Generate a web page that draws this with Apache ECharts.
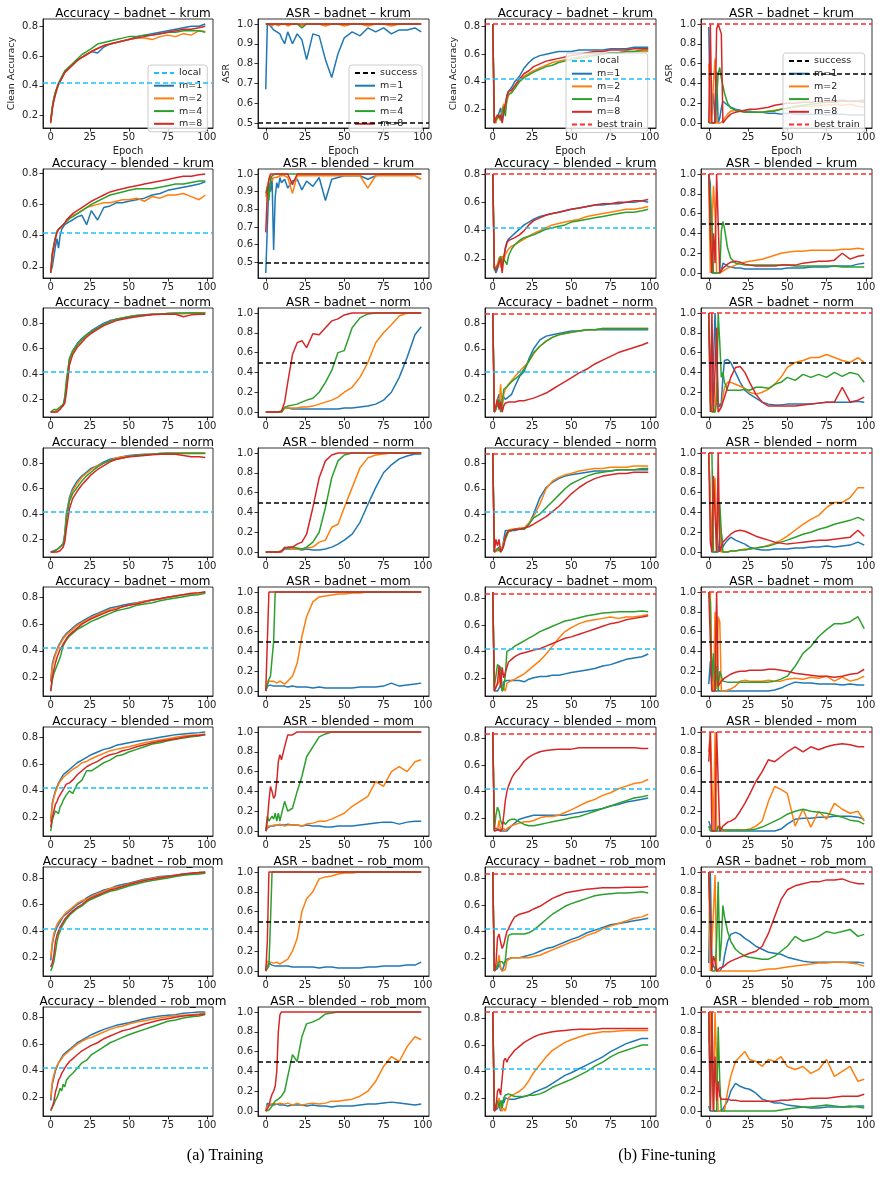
<!DOCTYPE html>
<html>
<head>
<meta charset="utf-8">
<script src="https://cdn.jsdelivr.net/npm/echarts@6/dist/echarts.min.js"></script>
<style>
html, body { margin: 0; padding: 0; background: #fff; }
#main { width: 881px; height: 1188px; }
</style>
</head>
<body>
<div id="main"></div>
<script>
var EPOCHS = [0,1,2,3,4,5,6,7,8,9,10, 12,14,17,20,23,26,30,34,38,42,46, 50,55,60,65,70,75,80,85,90,95,99];
var MODELS = ['m=1', 'm=2', 'm=4', 'm=8'];
var ROW_NAMES = ['badnet – krum', 'blended – krum', 'badnet – norm', 'blended – norm',
                 'badnet – mom', 'blended – mom', 'badnet – rob_mom', 'blended – rob_mom'];
var LOCAL_ACC = 0.425;
var SUCCESS_ASR = 0.5;
var BEST_TRAIN_ACC = [0.82, 0.80, 0.883, 0.883, 0.845, 0.845, 0.845, 0.847];
var BEST_TRAIN_ASR = 1.0;

// values in percent; rows are m=1, m=2, m=4, m=8
var trainAcc_badnet_krum = [
  [16,25,31,35,38,41,43,45,47,49,50, 52,54,57,59,61,63,62,66,68,69,70, 71,73,74,75,76,77,78,79,80,80,81.5],
  [16,25,31,35,38,41,43,45,47,49,50, 52,54,57,59,61,63,65,67,68,69,70, 71,72,72,71,73,74,73,75,74,77,76.5],
  [17,26,32,36,39,42,44,46,48,50,51, 53,55,58,61,63,65,68,69,70,71,72, 73,73,74,74,75,76,76,77,77,77,76],
  [15,24,30,34,38,41,43,45,47,49,50, 52,54,57,59,61,63,65,67,68,69,70, 71,72,73,74,75,76,77,78,78,79,80]
];
var trainAsr_badnet_krum = [
  [67,100,100,99,98,97,98,96,97,95,93, 90,96,90,95,92,82,95,94,82,73,85, 93,96,94,98,96,98,95,97,97,98,96],
  [100,100,100,100,99,100,100,100,99,100,100, 100,99,100,100,99,100,100,100,99,100,100, 99,100,100,99,100,100,99,100,100,100,100],
  [100,100,100,100,100,100,100,100,100,100,100, 100,100,100,100,98,100,100,100,100,100,100, 100,100,100,100,100,100,100,100,100,100,100],
  [100,100,100,100,100,100,100,100,100,100,100, 100,100,100,100,100,100,100,100,100,100,100, 100,100,100,100,100,100,100,100,100,100,100]
];
var ftAcc_badnet_krum = [
  [82,10,12,14,13,21,12,18,22,30,33, 36,40,44,50,54,57,59,60,61,62,62, 62,63,63,63,63,64,64,64,65,65,65],
  [82,12,10,15,14,12,20,24,20,26,30, 33,37,42,44,46,48,50,52,54,55,56, 57,58,59,60,60,61,61,62,62,62,62],
  [82,10,11,14,16,12,18,22,15,28,31, 32,35,40,43,45,47,49,51,52,54,55, 56,57,58,59,60,61,61,62,62,63,63],
  [82,10,14,16,14,16,10,18,24,30,33, 34,37,42,46,48,51,53,55,56,57,58, 59,60,61,62,62,63,63,63,64,64,64]
];
var ftAsr_badnet_krum = [
  [97,0,0,30,0,52,0,5,15,22,20, 18,16,14,13,12,12,11,11,10,10,9, 10,9,9,9,9,8,9,9,8,8,8],
  [60,0,10,40,65,0,0,0,0,2,5, 9,12,13,12,11,11,11,11,12,13,14, 15,16,17,17,18,18,19,18,19,17,16],
  [0,0,0,0,0,0,50,56,45,38,30, 20,15,13,12,11,11,11,11,12,12,14, 15,17,18,19,20,21,21,22,22,22,23],
  [0,100,0,0,0,95,100,98,90,0,2, 6,9,11,12,13,14,14,15,16,18,19, 20,20,21,21,22,21,22,23,22,22,21]
];

var trainAcc_blended_krum = [
  [17,20,21,33,38,32,40,44,45,47,48, 49,50,52,53,47,56,50,58,59,61,61, 62,63,64,66,67,69,70,71,72,73,74.5],
  [16,25,34,39,43,44,45,46,47,48,49, 51,53,54,56,58,59,60,61,61,62,63, 63,64,62,65,64,66,66,67,65,63,66],
  [17,29,34,39,42,44,45,46,47,48,49, 51,52,54,56,58,60,62,64,66,67,68, 69,70,70,70,71,72,73,73,74,75,75],
  [16,28,33,38,42,44,45,46,47,48,50, 52,54,56,58,60,62,64,66,68,69,70, 71,72,73,74,75,76,77,78,78,79,79.5]
];
var trainAsr_blended_krum = [
  [44,70,95,90,98,57,87,95,92,98,95, 97,92,96,97,91,96,93,98,85,97,98, 99,99,99,97,99,100,100,100,100,100,100],
  [87,93,97,99,96,98,99,98,99,99,98, 99,98,89,99,99,99,99,99,99,99,99, 99,99,99,92,99,99,99,99,99,99,97],
  [89,93,85,97,99,100,100,100,100,100,100, 100,100,100,100,100,100,100,100,100,100,100, 100,100,100,100,100,100,100,100,100,100,100],
  [67,90,97,100,100,100,100,100,100,100,100, 100,100,94,100,100,100,100,100,100,100,100, 100,100,100,100,100,100,100,100,100,100,100]
];
var ftAcc_blended_krum = [
  [80,14,10,13,17,22,15,20,28,32,34, 36,38,41,44,46,48,50,51,52,53,54, 55,56,57,58,58,59,59,60,60,61,60],
  [80,13,12,16,21,14,22,18,23,25,27, 29,30,32,34,36,38,40,42,44,45,46, 47,48,50,51,52,53,54,55,55,56,57],
  [80,12,11,15,18,22,16,20,19,16,22, 27,30,33,35,36,37,39,41,42,43,44, 46,47,48,49,50,51,52,53,53,54,55],
  [80,14,12,14,18,20,10,21,27,31,33, 34,35,37,40,44,47,49,51,52,53,54, 55,56,57,58,59,59,60,60,61,61,62]
];
var ftAsr_blended_krum = [
  [100,90,0,0,0,0,0,0,2,10,8, 7,6,5,5,4,4,4,4,4,4,4, 5,5,5,6,6,6,7,7,7,9,10],
  [95,0,0,88,60,0,0,0,0,2,3, 5,6,8,10,11,12,13,14,16,18,20, 21,22,22,23,23,23,23,24,24,25,24],
  [100,80,50,0,0,0,0,0,42,52,45, 25,15,10,9,8,8,8,8,8,8,8, 8,7,7,7,7,7,7,6,6,6,6],
  [100,40,0,40,10,100,100,0,2,5,7, 9,11,12,11,9,8,7,7,7,7,8, 8,8,10,11,12,12,13,20,14,17,18]
];

var trainAcc_badnet_norm = [
  [10,10,10,10,11,12,13,14,15,20,30, 52,58,64,68,71,74,77,80,82,83,84, 85,86,86.5,87,87,87.5,87.5,87.5,88,88,88],
  [10,10,10,10,11,12,13,14,15,19,28, 50,57,63,67,70,73,76,79,81,83,84, 85,86,86,87,87,87.5,87.5,87.5,87.5,88,88],
  [10,11,12,12,12,13,14,15,16,22,35, 52,58,63,67,71,73,76,79,81,83,84, 85,86,86,87,87,87.5,88,88,88,88,88],
  [10,10,10,10,10,10,12,14,15,17,25, 47,55,61,65,69,72,75,78,80,82,83, 84,85,86,86.5,87,87,87,85,86.5,87,87]
];
var trainAsr_badnet_norm = [
  [0,0,0,0,0,0,0,0,0,0,0, 4,4,3,3,3,3,3,3,3,3,3, 4,4,5,6,8,12,20,35,55,78,86],
  [0,0,0,0,0,0,0,0,0,0,0, 4,4,4,4,5,5,6,8,10,12,15, 20,25,35,50,70,80,88,97,100,100,100],
  [0,0,0,0,0,0,0,0,0,0,0, 5,6,7,8,10,12,14,20,30,42,60, 62,85,95,99,100,100,100,100,100,100,100],
  [0,0,0,0,0,0,0,0,0,0,1, 10,30,58,70,72,65,79,78,85,92,94, 98,100,100,100,100,100,100,100,100,100,100]
];
var ftAcc_badnet_norm = [
  [88,10,12,20,24,15,18,22,20,19,22, 24,30,38,42,52,60,67,70,71,72,73, 74,74,75,75,75,75,75,75,75,75,75],
  [88,10,14,20,15,32,12,24,28,30,32, 35,38,42,46,50,56,62,66,69,71,72, 73,74,75,75,76,76,76,76,76,76,76],
  [88,10,10,15,20,10,18,28,29,30,31, 34,36,39,44,50,57,62,66,69,71,72, 73,74,75,75,76,76,76,76,76,76,76],
  [88,10,15,20,12,18,10,15,17,17,18, 18,18,19,19,20,21,23,25,28,31,34, 37,41,44,48,51,54,57,59,61,63,65]
];
var ftAsr_badnet_norm = [
  [85,50,0,0,100,100,10,5,10,35,52, 53,50,40,30,22,18,14,10,8,7,7, 8,8,8,8,9,10,10,10,10,11,10],
  [100,40,0,3,0,30,0,0,5,15,25, 30,30,28,26,24,20,18,20,23,28,35, 45,50,52,55,55,58,55,52,50,55,50],
  [100,10,0,0,0,10,100,70,35,40,30, 22,22,22,22,23,22,25,25,24,28,30, 35,32,38,35,38,35,40,36,40,38,30],
  [100,0,100,0,0,85,0,2,5,10,15, 25,35,45,46,40,30,18,10,6,6,6, 6,6,7,8,9,10,10,25,10,12,15]
];

var trainAcc_blended_norm = [
  [10,10,11,11,12,13,14,15,17,25,40, 53,60,66,70,73,76,78,81,83,84,85, 86,86.5,87,87,87.5,88,88,88,88,88,88],
  [10,10,10,11,12,13,14,15,16,22,37, 51,58,64,69,72,75,78,80,82,84,85, 85.5,86,86.5,87,87.5,87.5,88,88,88,88,88],
  [10,10,10,11,12,13,14,15,16,22,36, 50,56,61,66,70,73,77,80,82,83,84, 85,86,86.5,87,87.5,87.5,87.5,87.5,87.5,87.5,87.5],
  [10,10,10,10,10,10,11,12,14,18,28, 44,52,58,63,67,71,75,78,81,83,84, 85,85.5,86,86.5,87,87,87,86,85,85,84.5]
];
var trainAsr_blended_norm = [
  [0,0,0,0,0,0,0,0,0,0,0, 3,3,3,3,2,3,2,2,3,5,8, 12,18,30,48,65,80,88,94,97,99,99],
  [0,0,0,0,0,0,0,0,0,0,0, 4,4,3,3,3,4,5,10,12,25,28, 45,65,85,95,98,99,100,100,100,100,100],
  [0,0,0,0,0,0,0,0,0,0,1, 5,4,5,4,3,5,10,20,45,75,92, 98,100,100,100,100,100,100,100,100,100,100],
  [0,0,0,0,0,0,0,0,0,0,1, 4,5,5,8,10,18,45,75,92,98,100, 100,100,100,100,100,100,100,100,100,100,100]
];
var ftAcc_blended_norm = [
  [88,10,10,12,14,10,12,20,27,26,27, 27,27,28,28,32,40,53,61,65,68,70, 71,72,73,74,74,74,75,75,75,75,75],
  [88,10,10,11,12,14,12,18,22,25,27, 28,28,29,29,33,38,48,60,66,69,71, 72,74,75,76,76,77,77,77,78,78,78],
  [88,10,10,13,11,10,12,16,20,23,26, 27,28,28,28,32,37,40,45,50,55,60, 64,67,70,72,73,74,75,75,75,76,76],
  [88,10,20,15,20,10,12,15,22,25,27, 27,28,28,29,30,32,35,38,42,46,51, 56,61,65,68,70,71,72,72,73,73,73]
];
var ftAsr_blended_norm = [
  [100,100,0,0,0,0,0,15,18,5,8, 12,15,12,10,8,5,3,2,2,3,3, 3,4,4,5,5,6,5,6,7,10,7],
  [100,100,0,0,75,0,50,40,0,0,0, 0,1,1,2,3,3,4,5,7,9,12, 16,22,28,33,37,45,50,50,55,65,65],
  [100,100,100,0,0,0,40,50,20,0,0, 0,1,1,2,2,3,4,5,6,8,10, 12,15,18,20,23,25,28,30,32,35,32],
  [100,10,0,77,75,0,100,0,5,10,12, 15,18,21,22,21,19,16,14,12,10,9, 8,9,10,11,12,12,13,14,15,22,16]
];

var trainAcc_badnet_mom = [
  [17,30,35,38,41,44,46,48,50,51,53, 55,57,60,62,64,66,68,70,72,73,74, 75,76,77,78,79,80,81,82,82.5,83,84],
  [17,28,33,37,40,43,45,47,49,50,52, 54,56,59,61,63,65,67,69,71,72,73, 74,75.5,77,78,79,80,81,82,82.5,83,84],
  [10,18,23,26,29,32,35,36,44,46,48, 51,53,56,58,60,62,64,66,68,70,71, 72,74,75,76,77.5,78.5,79.5,80.5,81.5,82,83],
  [10,20,26,31,35,38,41,43,45,47,49, 52,54,57,60,62,64,66,68,70,71,73, 74,75,76.5,78,79,80,81,82,83,83.5,84]
];
var trainAsr_badnet_mom = [
  [0,5,7,6,6,5,5,5,5,5,5, 5,4,5,4,4,4,3,4,3,3,3, 3,3,4,4,4,5,8,5,6,7,8],
  [0,10,12,10,8,10,8,8,9,10,8, 7,10,15,28,55,75,90,95,96,97,98, 98,99,99,100,100,100,100,100,100,100,100],
  [0,5,12,15,15,50,100,100,100,100,100, 100,100,100,100,100,100,100,100,100,100,100, 100,100,100,100,100,100,100,100,100,100,100],
  [0,50,100,100,100,100,100,100,100,100,100, 100,100,100,100,100,100,100,100,100,100,100, 100,100,100,100,100,100,100,100,100,100,100]
];
var ftAcc_badnet_mom = [
  [85,10,10,10,12,15,10,17,18,18,18, 18,18,18,17,19,20,21,21,22,22,23, 24,25,26,27,29,30,32,34,35,36,38],
  [85,10,10,15,17,27,10,12,10,16,17, 18,19,21,23,26,29,33,38,44,50,55, 58,61,63,64,65,66,65,66,66,67,68],
  [85,13,12,30,30,28,10,12,22,40,41, 42,44,46,48,50,52,55,57,59,61,63, 64,65.5,67,68,69,69.5,70,70,70,70.5,70],
  [85,10,10,16,29,13,28,20,24,28,32, 34,36,38,39,40,41,42,44,46,48,50, 51,53,55,57,59,61,62,64,65,66,67]
];
var ftAsr_badnet_mom = [
  [7,30,0,0,0,0,0,0,0,0,0, 0,0,0,0,0,0,0,0,0,1,3, 6,9,8,8,7,7,7,6,7,6,6],
  [95,100,5,0,80,2,75,70,0,0,0, 1,2,5,10,11,10,10,10,11,10,10, 12,13,12,14,13,15,10,14,10,12,15],
  [100,90,10,38,0,25,0,20,15,10,10, 9,9,9,9,9,9,9,9,9,10,12, 15,25,38,45,55,62,68,68,70,75,63],
  [100,100,0,0,0,100,5,5,10,12,13, 15,17,19,20,20,21,21,21,22,22,21, 20,18,17,16,15,15,14,15,17,18,22]
];

var trainAcc_blended_mom = [
  [17,31,36,40,43,46,48,50,52,53,54, 56,58,61,63,65,67,69,71,72,74,75, 76,77,78,79,80,81,82,82.5,83,83.5,84],
  [17,29,35,39,42,45,47,48,50,51,52, 54,56,58,61,62,64,66,68,70,71,72, 73,74.5,76,77,78,79,80,81,81.5,82,82.5],
  [10,18,22,25,24,23,28,30,33,35,37, 40,38,45,48,55,55,58,61,63,66,67, 69,71,73,75,76,77.5,78.5,79.5,80.5,81,82],
  [13,20,25,30,32,35,37,39,41,43,45, 46,48,52,55,58,60,62,65,67,68,70, 71,73,74.5,76,77,78,79,80,81,81.5,82]
];
var trainAsr_blended_mom = [
  [0,3,4,5,5,5,5,6,5,6,5, 6,7,6,6,5,6,5,5,4,4,5, 5,5,6,7,8,9,9,7,9,10,10],
  [0,5,6,5,5,6,5,6,6,7,6, 5,6,6,6,5,7,8,10,10,12,15, 18,25,30,35,50,45,60,65,60,70,72],
  [0,15,10,12,15,12,18,10,18,10,17, 30,20,23,40,55,75,85,95,98,100,100, 100,100,100,100,100,100,100,100,100,100,100],
  [0,10,30,45,40,33,36,50,70,77,72, 85,97,97,100,100,100,100,100,100,100,100, 100,100,100,100,100,100,100,100,100,100,100]
];
var ftAcc_blended_mom = [
  [85,12,12,12,11,10,10,10,10,10,11, 14,16,19,20,21,22,22,22,22,22,22, 23,24,25,26,27,29,30,32,33,34,35],
  [85,10,10,11,18,10,10,12,10,12,13, 14,15,16,17,17,18,20,21,21,22,24, 26,29,32,34,37,39,42,44,46,47,49],
  [85,10,22,28,25,18,15,17,15,16,18, 19,19,17,15,14,14,15,16,17,18,19, 20,21,23,25,27,29,31,33,35,36,37],
  [85,10,10,11,12,10,12,22,33,40,44, 50,54,58,63,66,68,70,71,71.5,72,72, 72,73,73,73,73,73,73,73,73,72.5,72.5]
];
var ftAsr_blended_mom = [
  [10,5,0,0,0,0,0,0,0,0,0, 0,0,0,0,0,0,0,0,0,0,2, 7,12,13,13,14,14,15,15,15,14,12],
  [80,100,100,0,100,0,0,5,3,0,1, 1,1,1,1,1,2,5,10,30,45,42, 38,5,22,4,20,12,28,22,18,20,10],
  [5,0,0,0,0,0,5,3,2,1,1, 1,1,1,1,1,1,2,4,7,10,13, 17,20,22,20,19,18,16,14,11,10,7],
  [70,100,0,0,0,100,100,0,2,5,7, 9,10,13,20,28,37,50,60,72,70,75, 80,85,80,85,82,85,87,88,87,85,85]
];

var trainAcc_badnet_robmom = [
  [18,30,36,40,43,45,47,49,51,52,53, 55,57,60,62,65,67,69,71,72,74,75, 76,77.5,79,80,81,81.5,82,83,83.5,84,84],
  [20,32,38,42,45,47,48,50,51,53,54, 56,58,61,63,64,66,68,70,72,73,74, 75.5,77,78.5,79.5,80.5,81,82,82.5,83,83.5,84],
  [10,13,17,24,32,37,40,43,45,47,49, 52,54,57,59,62,64,66,68,70,71,72.5, 74,75.5,77,78,79,80,81,82,82.5,83,83.5],
  [13,16,22,32,37,40,43,45,47,49,50, 53,55,58,60,63,65,67,69,71,72,73.5, 75,76.5,78,79,80,81,82,83,83.5,84,84.5]
];
var trainAsr_badnet_robmom = [
  [0,5,8,6,6,6,5,5,5,5,5, 5,5,4,4,4,4,4,3,4,4,3, 3,3,3,4,4,5,5,5,6,6,9],
  [0,10,12,9,10,8,8,9,7,7,8, 10,12,20,33,60,73,80,93,95,96,98, 99,99,100,100,100,100,100,100,100,100,100],
  [0,2,5,50,100,100,100,100,100,100,100, 100,100,100,100,100,100,100,100,100,100,100, 100,100,100,100,100,100,100,100,100,100,100],
  [0,30,100,100,100,100,100,100,100,100,100, 100,100,100,100,100,100,100,100,100,100,100, 100,100,100,100,100,100,100,100,100,100,100]
];
var ftAcc_badnet_robmom = [
  [85,10,10,12,15,14,10,11,17,19,20, 20,20,20,21,22,23,25,27,28,30,32, 34,36,39,41,43,45,46,47,48,49,50],
  [85,10,12,15,22,12,10,10,11,18,19, 20,20,20,20,20,21,22,24,26,28,30, 32,34,37,39,42,44,46,48,50,51,53],
  [85,10,10,14,17,16,17,15,18,30,37, 38,38,38,38,39,41,45,49,53,56,59, 61,63,65,67,68,68.5,69,69,69.5,70,69],
  [85,10,15,35,38,32,27,30,35,40,42, 47,51,53,54,55,57,59,62,65,67,69, 70,71,72,72.5,73,73,73,73.5,73.5,73.5,74]
];
var ftAsr_badnet_robmom = [
  [8,100,10,5,5,0,0,0,0,5,15, 30,37,39,37,33,30,25,22,19,18,17, 14,12,10,9,9,9,9,9,9,9,8],
  [100,0,0,60,97,0,0,0,0,0,0, 0,0,0,0,0,0,0,1,2,2,3, 4,5,6,7,8,8,9,9,8,7,5],
  [100,50,0,0,0,30,90,10,30,66,55, 40,30,22,18,15,14,13,12,12,15,20, 25,35,30,32,35,40,38,40,42,35,37],
  [100,100,0,15,10,0,2,3,3,4,6, 8,10,12,14,16,18,20,25,38,55,72, 82,86,88,90,90,92,92,93,90,88,88]
];

var trainAcc_blended_robmom = [
  [18,30,35,40,43,46,48,50,52,53,54, 56,58,61,63,65,67,69,71,72.5,74,75, 76,77.5,79,80,81,81.5,82,83,83.5,84,84],
  [20,32,37,41,44,46,47,49,51,52,53, 55,57,60,62,64,65,67,69,71,72.5,73.5, 75,76.5,77.5,78.5,79.5,80.5,81,81.5,82,82.5,83],
  [10,13,15,18,20,23,27,25,30,28,33, 36,38,42,46,48,52,55,58,61,63,65, 67,69,71,73,75,77,78,79.5,80.5,81,82],
  [11,13,17,24,28,33,35,38,40,42,44, 47,49,52,55,57,59,61,64,66,68,70, 71,73,75,76.5,78,79,80,81,81.5,82,82.5]
];
var trainAsr_blended_robmom = [
  [0,8,7,6,6,6,6,7,6,6,6, 6,5,6,6,6,5,6,5,5,4,5, 5,5,6,7,7,8,9,8,7,6,7],
  [0,5,6,7,8,8,8,7,8,8,9, 7,8,6,8,6,7,8,7,8,10,10, 11,12,15,20,30,45,55,50,65,75,72],
  [0,0,1,3,5,7,10,8,12,10,15, 20,35,57,50,75,88,90,93,98,99,100, 100,100,100,100,100,100,100,100,100,100,100],
  [0,0,5,12,17,20,25,40,80,97,100, 100,100,100,100,100,100,100,100,100,100,100, 100,100,100,100,100,100,100,100,100,100,100]
];
var ftAcc_blended_robmom = [
  [85,10,10,12,15,10,18,16,20,19,19, 19,19,20,21,22,24,26,28,31,34,37, 39,42,45,48,51,55,58,61,63,65,65],
  [85,10,12,14,20,12,10,12,10,15,20, 22,23,25,28,33,39,45,51,56,59,62, 64,66,68,69,70,70,70.5,71,71,71,71],
  [85,10,15,18,13,18,12,20,22,23,23, 22,21,21,21,22,22,23,25,28,30,32, 34,37,40,44,47,51,54,56,58,60,60],
  [85,10,12,25,27,22,35,48,50,47,50, 53,56,59,62,64,66,68,69,70,70.5,71, 71.5,72,72,72,72.5,72.5,72.5,72.5,72.5,72.5,72.5]
];
var ftAsr_blended_robmom = [
  [5,0,0,0,0,0,0,0,0,2,5, 10,20,28,25,23,22,18,12,10,8,8, 6,5,4,3,3,4,4,4,4,5,5],
  [70,100,100,0,100,100,0,0,0,0,0, 20,35,50,55,60,52,50,45,52,50,55, 45,42,45,38,42,52,35,40,45,30,32],
  [100,0,100,0,0,0,85,30,0,0,0, 0,0,0,0,0,0,0,0,0,0,1, 2,3,4,4,5,6,5,4,5,4,3],
  [100,0,100,0,55,10,30,15,12,11,12, 12,11,11,10,10,10,10,10,10,10,11, 11,12,12,13,13,13,14,15,15,15,17]
];

// column order: training accuracy, training ASR, fine-tuning accuracy, fine-tuning ASR
var TRAIN_ACC = [trainAcc_badnet_krum, trainAcc_blended_krum, trainAcc_badnet_norm, trainAcc_blended_norm,
                 trainAcc_badnet_mom, trainAcc_blended_mom, trainAcc_badnet_robmom, trainAcc_blended_robmom];
var TRAIN_ASR = [trainAsr_badnet_krum, trainAsr_blended_krum, trainAsr_badnet_norm, trainAsr_blended_norm,
                 trainAsr_badnet_mom, trainAsr_blended_mom, trainAsr_badnet_robmom, trainAsr_blended_robmom];
var FT_ACC = [ftAcc_badnet_krum, ftAcc_blended_krum, ftAcc_badnet_norm, ftAcc_blended_norm,
              ftAcc_badnet_mom, ftAcc_blended_mom, ftAcc_badnet_robmom, ftAcc_blended_robmom];
var FT_ASR = [ftAsr_badnet_krum, ftAsr_blended_krum, ftAsr_badnet_norm, ftAsr_blended_norm,
              ftAsr_badnet_mom, ftAsr_blended_mom, ftAsr_badnet_robmom, ftAsr_blended_robmom];
var COLUMNS = [TRAIN_ACC, TRAIN_ASR, FT_ACC, FT_ASR];

var dom = document.getElementById('main');
var myChart = echarts.init(dom, null, { renderer: 'canvas' });

var COLORS = ['#1f77b4', '#ff7f0e', '#2ca02c', '#d62728'];
var LOCAL_COLOR = '#1ec0f8';
var BEST_COLOR = '#ff2a2a';
var FONT = 'DejaVu Sans';
var LW = 1.5;

var gridLeft = [43, 258, 485, 701];
var gridWidth = [170, 171, 171, 171];
var gridTop = [19, 169, 308, 448, 587, 727, 867, 1007];
var gridHeight = 109;

var grids = [], xAxes = [], yAxes = [], series = [], titles = [], legends = [];

function hline(name, y, color, idx) {
  return {
    type: 'line', name: name, xAxisIndex: idx, yAxisIndex: idx,
    data: [], symbol: 'none', silent: true,
    lineStyle: { color: color, width: LW, type: [5, 3] },
    itemStyle: { color: color },
    markLine: {
      silent: true, symbol: 'none', animation: false,
      label: { show: false },
      lineStyle: { color: color, width: LW, type: [5, 3] },
      data: [{ yAxis: y }]
    }
  };
}

for (var r = 0; r < 8; r++) {
  for (var c = 0; c < 4; c++) {
    var idx = r * 4 + c;
    var isAcc = (c % 2 === 0);
    var vals = COLUMNS[c][r];
    var lines = [];
    if (isAcc) lines.push({ name: 'local', y: LOCAL_ACC, color: LOCAL_COLOR });
    else lines.push({ name: 'success', y: SUCCESS_ASR, color: '#000' });

    var lo = Infinity, hi = -Infinity;
    vals.forEach(function (arr) {
      arr.forEach(function (v) { lo = Math.min(lo, v / 100); hi = Math.max(hi, v / 100); });
    });
    var best = null;
    if (c >= 2) best = { name: 'best train', y: isAcc ? BEST_TRAIN_ACC[r] : BEST_TRAIN_ASR, color: BEST_COLOR };
    lines.concat(best ? [best] : []).forEach(function (l) { lo = Math.min(lo, l.y); hi = Math.max(hi, l.y); });
    var pad = (hi - lo) * 0.05;
    var ymin = lo - pad, ymax = hi + pad;
    var step = (isAcc || lo < 0.3) ? 0.2 : 0.1;
    var yticks = [];
    for (var k = Math.ceil(ymin / step - 1e-9); k * step <= ymax + 1e-9; k++) yticks.push(Math.round(k * step * 10) / 10);

    grids.push({ left: gridLeft[c], top: gridTop[r], width: gridWidth[c], height: gridHeight,
                 show: true, borderColor: '#000', borderWidth: 0.8, backgroundColor: 'transparent' });

    var tickLabel = { fontFamily: FONT, fontSize: 10, color: '#222' };
    xAxes.push({
      type: 'value', gridIndex: idx, min: -4.95, max: 103.95,
      name: r === 0 ? 'Epoch' : '', nameLocation: 'middle', nameGap: 18,
      nameTextStyle: { fontFamily: FONT, fontSize: 10, color: '#222' },
      axisLine: { show: true, onZero: false, lineStyle: { color: '#000', width: 0.8 } },
      axisTick: { show: true, length: 3.5, lineStyle: { color: '#000', width: 0.8 }, customValues: [0, 25, 50, 75, 100] },
      axisLabel: Object.assign({ margin: 4, customValues: [0, 25, 50, 75, 100],
                                 formatter: function (v) { return String(Math.round(v)); } }, tickLabel),
      splitLine: { show: false }
    });
    yAxes.push({
      type: 'value', gridIndex: idx, min: ymin, max: ymax,
      name: r === 0 ? (isAcc ? 'Clean Accuracy' : 'ASR') : '', nameLocation: 'middle', nameRotate: 90,
      nameGap: 26,
      nameTextStyle: { fontFamily: FONT, fontSize: 9.5, color: '#222' },
      axisLine: { show: true, onZero: false, lineStyle: { color: '#000', width: 0.8 } },
      axisTick: { show: true, length: 3.5, lineStyle: { color: '#000', width: 0.8 }, customValues: yticks },
      axisLabel: Object.assign({ margin: 5, customValues: yticks,
                                 formatter: function (v) { return v.toFixed(1); } }, tickLabel),
      splitLine: { show: false }
    });

    titles.push({
      text: (isAcc ? 'Accuracy – ' : 'ASR – ') + ROW_NAMES[r],
      left: gridLeft[c] + gridWidth[c] / 2, top: gridTop[r] - 16, textAlign: 'center',
      textStyle: { fontFamily: FONT, fontSize: 12, fontWeight: 'normal', color: '#000' }
    });

    lines.forEach(function (l) { series.push(hline(l.name, l.y, l.color, idx)); });
    vals.forEach(function (arr, m) {
      series.push({
        type: 'line', name: MODELS[m], xAxisIndex: idx, yAxisIndex: idx,
        data: EPOCHS.map(function (e, j) { return [e, arr[j] / 100]; }),
        symbol: 'none', showSymbol: false, silent: true,
        lineStyle: { color: COLORS[m], width: LW }, itemStyle: { color: COLORS[m] }
      });
    });
    if (best) series.push(hline(best.name, best.y, best.color, idx));

    if (r === 0) {
      var names = lines.map(function (l) { return l.name; }).concat(MODELS);
      if (best) names.push(best.name);
      var legTop = best ? 53 : 65;
      var legLeft = [148, 349, 566, 783][c];
      legends.push({
        orient: 'vertical', left: legLeft, top: legTop, data: names,
        itemWidth: 20, itemHeight: 9, itemGap: 2.7, padding: [3, 5, 3, 5],
        backgroundColor: 'rgba(255,255,255,0.8)', borderColor: '#ccc', borderWidth: 1, borderRadius: 3,
        itemStyle: { opacity: 0 },
        textStyle: { fontFamily: FONT, fontSize: 9.5, color: '#222' },
        selectedMode: false
      });
    }
  }
}

titles.push({ text: '(a) Training', left: 220, top: 1143, textAlign: 'center',
              textStyle: { fontFamily: 'Liberation Serif', fontSize: 16, fontWeight: 'normal', color: '#000' } });
titles.push({ text: '(b) Fine-tuning', left: 662, top: 1143, textAlign: 'center',
              textStyle: { fontFamily: 'Liberation Serif', fontSize: 16, fontWeight: 'normal', color: '#000' } });

var option = {
  animation: false,
  backgroundColor: '#fff',
  title: titles,
  legend: legends,
  grid: grids,
  xAxis: xAxes,
  yAxis: yAxes,
  series: series
};

myChart.setOption(option);
</script>
</body>
</html>
